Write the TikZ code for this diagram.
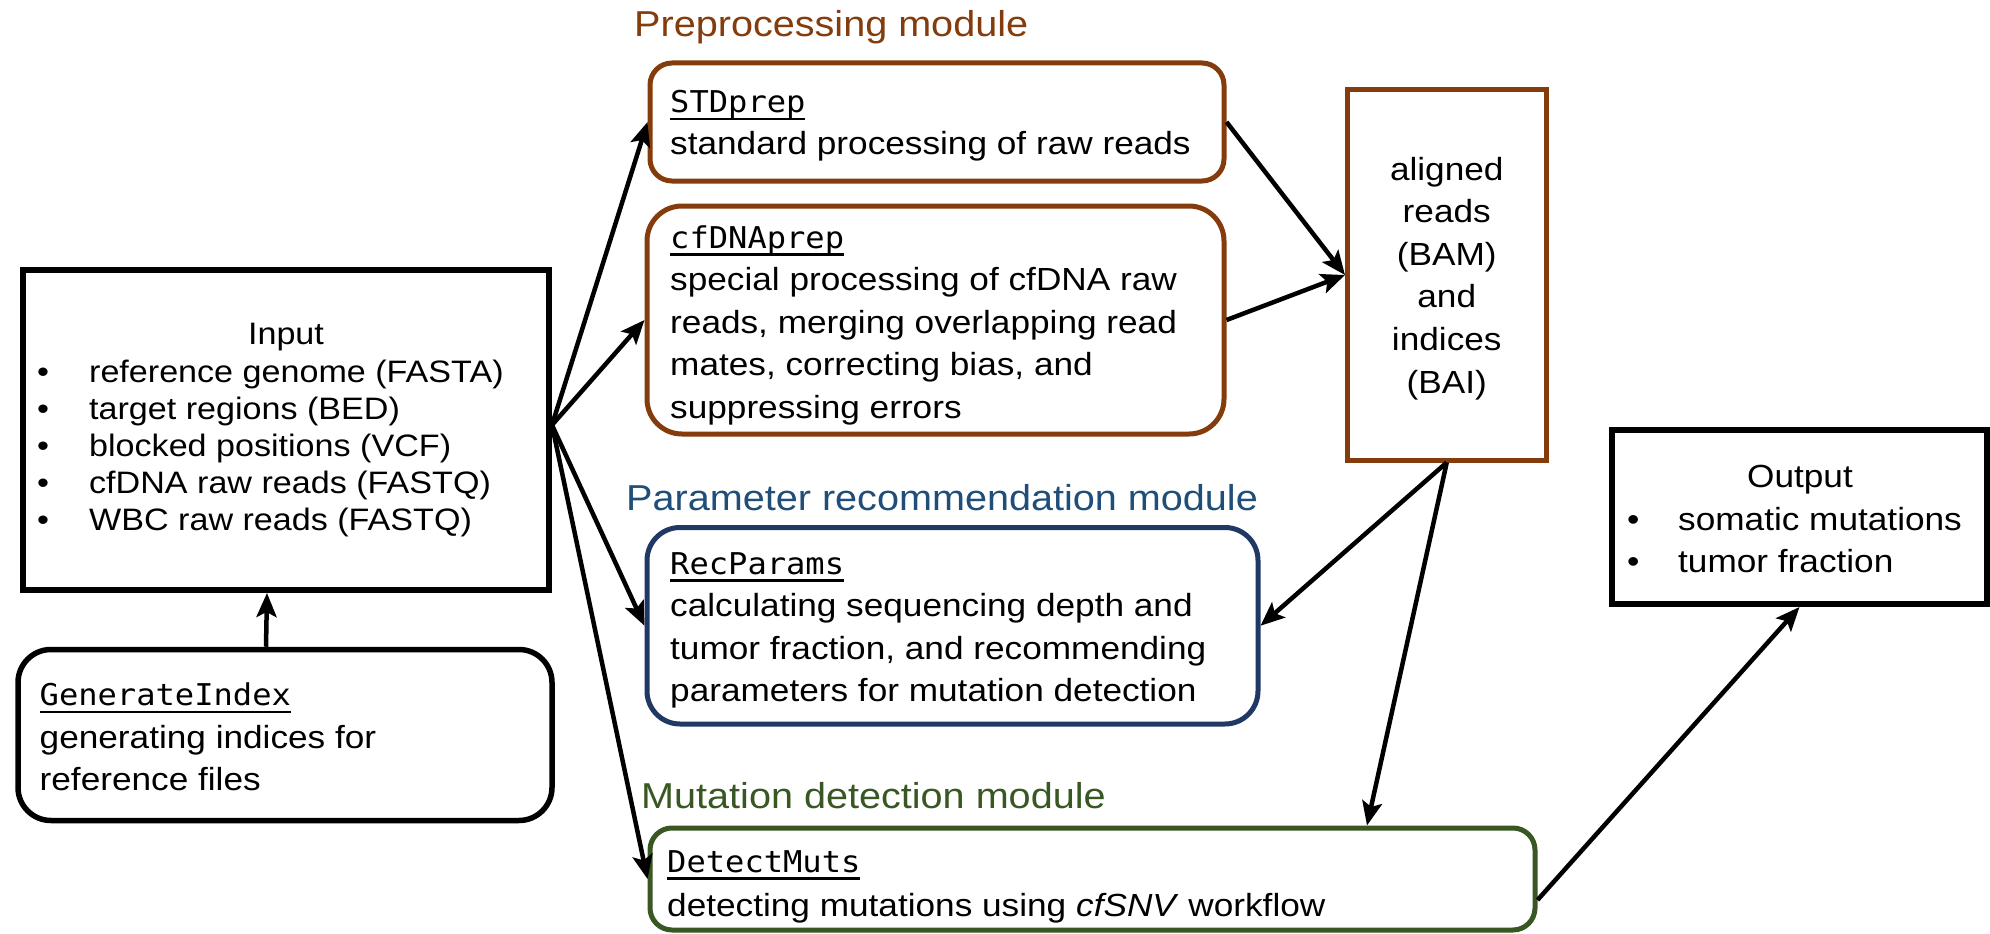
\documentclass[tikz,border=0pt]{standalone}
\usepackage{fontspec}
\setmainfont[FakeStretch=1.1]{Liberation Sans}
\newfontfamily\monof[FakeStretch=1.07]{DejaVu Sans Mono}
\usetikzlibrary{arrows.meta}
\definecolor{brownc}{HTML}{843C0C}
\definecolor{navyc}{HTML}{203864}
\definecolor{bluet}{HTML}{1F4E79}
\definecolor{greenc}{HTML}{385723}
\newcommand\blk[2]{\vtop{\baselineskip=#1\relax\lineskiplimit=-1000pt\relax\lineskip=0pt\relax\halign{##\hfil\cr#2\crcr}}}
\newcommand\cblk[2]{\vtop{\baselineskip=#1\relax\lineskiplimit=-1000pt\relax\lineskip=0pt\relax\halign{\hfil##\hfil\cr#2\crcr}}}
\newcommand\monoul[1]{{\monof\fontsize{30}{36}\selectfont\setbox0=\hbox{#1}\rlap{\rule[-7.5pt]{\wd0}{2.5pt}}\box0}}
\newcommand\bulA{\makebox[52pt][l]{•}}
\newcommand\bulB{\makebox[51pt][l]{•}}
\newcommand\fbody{\fontsize{32}{42.5}\selectfont}
\newcommand\fin{\fontsize{31}{37}\selectfont}
\newcommand\ftitle{\fontsize{36}{43}\selectfont}
\tikzset{
  boxbase/.style={draw, inner sep=0pt, fill=white},
  sqbox/.style={boxbase, line width=6pt},
  rbox/.style={boxbase, line width=5pt},
  conn/.style={draw=black, line width=4.5pt, -{Stealth[length=24pt,width=20pt,inset=5pt]}},
  txt/.style={inner sep=0pt, anchor=base west},
  ctxt/.style={inner sep=0pt, anchor=base},
}
\begin{document}
\begin{tikzpicture}[x=1pt,y=-1pt]
\fill[white] (0,0) rectangle (1990,934);
\useasboundingbox (0,0) rectangle (1990,934);

% boxes
\node[sqbox, minimum width=526pt, minimum height=320pt] (in) at (286,430) {};
\node[rbox, draw=black, line width=5.5pt, rounded corners=33pt, minimum width=534pt, minimum height=171pt] (gen) at (285,735) {};
\node[rbox, draw=brownc, rounded corners=22pt, minimum width=574pt, minimum height=118pt] (std) at (937,122) {};
\node[rbox, draw=brownc, rounded corners=35pt, minimum width=577pt, minimum height=228pt] (cf) at (935.5,320) {};
\node[rbox, draw=brownc, minimum width=198.5pt, minimum height=370pt] (al) at (1446.75,275) {};
\node[rbox, draw=navyc, rounded corners=33pt, minimum width=611pt, minimum height=196.5pt] (rec) at (952.5,625.75) {};
\node[rbox, draw=greenc, rounded corners=22pt, minimum width=885pt, minimum height=102pt] (det) at (1092.5,879) {};
\node[sqbox, minimum width=375pt, minimum height=174pt] (out) at (1799.5,517) {};

% titles
\node[txt, font=\ftitle, text=brownc] (tpre) at (634,36.7) {Preprocessing module};
\node[txt, font=\ftitle, text=bluet] (tpar) at (626,510) {Parameter recommendation module};
\node[txt, font=\ftitle, text=greenc] (tmut) at (641,808.3) {Mutation detection module};

% Input
\node[ctxt, font=\fin] (intitle) at (286,344) {Input};
\node[txt, font=\fin] (inlist) at (37,382) {\blk{37pt}{\bulA reference genome (FASTA)\cr
\bulA target regions (BED)\cr
\bulA blocked positions (VCF)\cr
\bulA cfDNA raw reads (FASTQ)\cr
\bulA WBC raw reads (FASTQ)}};

% GenerateIndex
\node[txt, font=\fbody] (gentxt) at (39.5,705.5) {\blk{42.5pt}{\monoul{GenerateIndex}\cr
generating indices for\cr
reference files}};

% STDprep
\node[txt, font=\fbody] (stdtxt) at (670,112.5) {\blk{42.5pt}{\monoul{STDprep}\cr
standard processing of raw reads}};

% cfDNAprep
\node[txt, font=\fbody] (cftxt) at (670,248) {\blk{42.5pt}{\monoul{cfDNAprep}\cr
special processing of cfDNA raw\cr
reads, merging overlapping read\cr
mates, correcting bias, and\cr
suppressing errors}};

% aligned
\node[ctxt, font=\fbody] (altxt) at (1446.75,180) {\cblk{42.6pt}{aligned\cr reads\cr (BAM)\cr and\cr indices\cr (BAI)}};

% RecParams
\node[txt, font=\fbody] (rectxt) at (670,574) {\blk{42.5pt}{\monoul{RecParams}\cr
calculating sequencing depth and\cr
tumor fraction, and recommending\cr
parameters for mutation detection}};

% DetectMuts
\node[txt, font=\fbody] (dettxt) at (667,872) {\blk{44pt}{\monoul{DetectMuts}\cr
detecting mutations using \textit{cfSNV} workflow}};

% Output
\node[ctxt, font=\fbody] (outtitle) at (1800,487) {Output};
\node[txt, font=\fbody] (outlist) at (1627,530) {\blk{42pt}{\bulB somatic mutations\cr
\bulB tumor fraction}};

% connectors
\coordinate (fan) at ([yshift=5pt]in.east);
\draw[conn] ([xshift=-19pt]gen.north) -- ([xshift=-19pt]in.south);
\draw[conn] (fan) -- (std.west);
\draw[conn] (fan) -- (cf.west);
\draw[conn] (fan) -- (rec.west);
\draw[conn] (fan) -- (det.west);
\draw[conn] (std.east) -- (al.west);
\draw[conn] (cf.east) -- (al.west);
\draw[conn] (al.south) -- (rec.east);
\draw[conn] (al.south) -- ([xshift=274.5pt]det.north);
\draw[conn] ([yshift=-21pt]det.east) -- (out.south);
\end{tikzpicture}
\end{document}
